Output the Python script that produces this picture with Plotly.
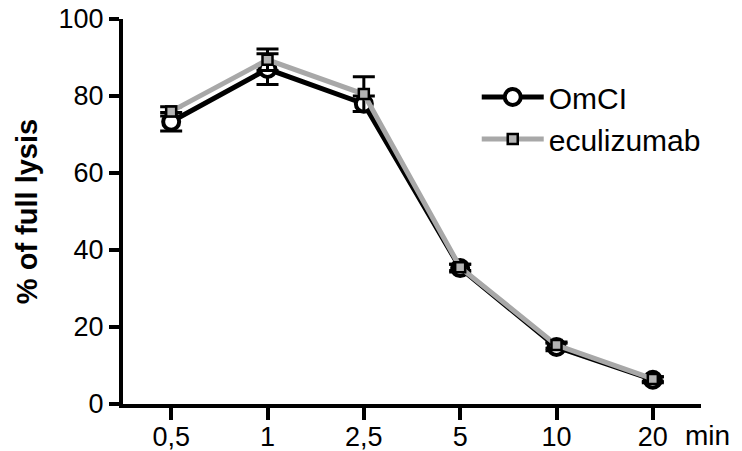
import plotly.graph_objects as go

categories = ["0,5", "1", "2,5", "5", "10", "20"]
omci = [73.3, 87.0, 78.0, 35.3, 14.8, 6.3]
omci_err = [2.4, 4.0, 2.0, 1.0, 1.0, 0.8]
ecu = [76.0, 89.4, 80.5, 35.5, 15.3, 6.5]
ecu_err = [1.2, 2.8, 4.5, 0.8, 0.8, 0.6]
yticks = [0, 20, 40, 60, 80, 100]

xpos = list(range(len(categories)))
FONT = "Liberation Sans, Arial, sans-serif"

fig = go.Figure()
fig.add_trace(go.Scatter(
    x=xpos, y=omci, name="OmCI", mode="lines+markers",
    line=dict(color="black", width=5),
    marker=dict(symbol="circle", size=16, color="white", line=dict(color="black", width=4)),
    error_y=dict(type="data", array=omci_err, color="black", thickness=3, width=11),
))
fig.add_trace(go.Scatter(
    x=xpos, y=ecu, name="eculizumab", mode="lines+markers",
    line=dict(color="#a8a8a8", width=5),
    marker=dict(symbol="square", size=10, color="#b4b4b4", line=dict(color="black", width=2.5)),
    error_y=dict(type="data", array=ecu_err, color="black", thickness=3, width=11),
))

fig.update_layout(
    template="none",
    width=742, height=451,
    margin=dict(l=123, r=41, t=19, b=47),
    paper_bgcolor="white", plot_bgcolor="white",
    font=dict(family=FONT, color="black", size=27),
    showlegend=True,
    legend=dict(x=0.612, y=0.865, xanchor="left", yanchor="top",
                font=dict(size=30, family=FONT), bgcolor="rgba(0,0,0,0)",
                itemwidth=62),
    xaxis=dict(range=[-0.5, 5.5], tickvals=xpos, ticktext=categories, automargin=False,
               showgrid=False, zeroline=False, showline=True, linecolor="black",
               linewidth=4, ticks="outside", ticklen=12, tickwidth=4, tickcolor="black",
               tickfont=dict(size=27), ticklabeloverflow="allow", ticklabelstandoff=-6),
    yaxis=dict(range=[0, 100], tickvals=yticks, showgrid=False, zeroline=False, automargin=False,
               showline=True, linecolor="black", linewidth=4, ticks="outside",
               ticklen=10, tickwidth=4, tickcolor="black", tickfont=dict(size=27),
               ticklabeloverflow="allow",
               title=dict(text="<b>% of full lysis</b>", font=dict(size=29), standoff=13)),
)
fig.add_annotation(text="min", xref="paper", yref="paper", x=1.0, y=0,
                   xanchor="left", yanchor="middle", yshift=-31, xshift=-18,
                   showarrow=False, font=dict(size=28, family=FONT))

fig.write_html("out.html", config={"displayModeBar": False},
               post_script="document.body.style.margin='0';document.body.style.overflow='hidden';")
